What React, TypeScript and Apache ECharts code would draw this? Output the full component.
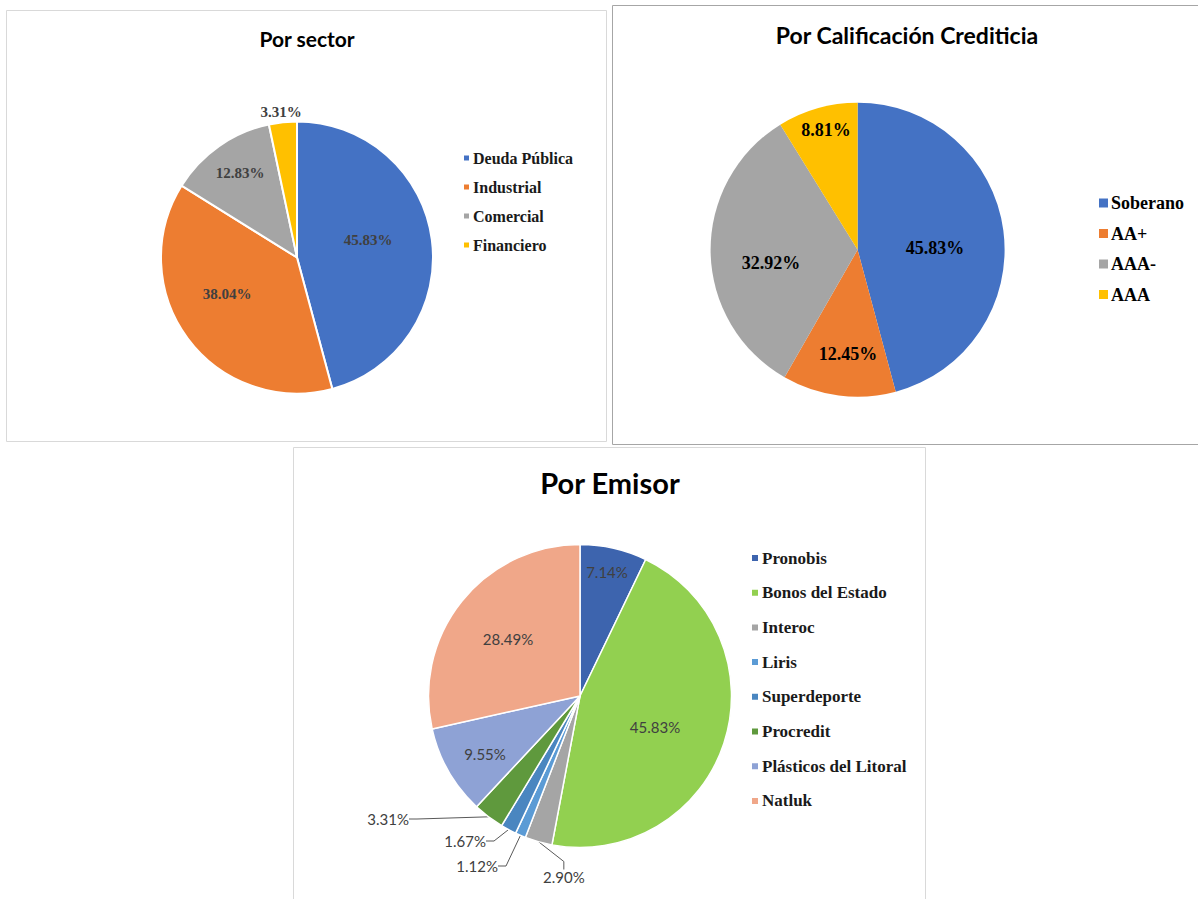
import React, { useEffect, useRef } from "react";
import * as echarts from "echarts";

// ---- Data ----
const sectorTitle = "Por sector";
const sectorNames = ["Deuda Pública", "Industrial", "Comercial", "Financiero"];
const sectorValues = [45.83, 38.04, 12.83, 3.31];
const sectorColors = ["#4472C4", "#ED7D31", "#A5A5A5", "#FFC000"];

const ratingTitle = "Por Calificación Crediticia";
const ratingNames = ["Soberano", "AA+", "AAA-", "AAA"];
const ratingValues = [45.83, 12.45, 32.92, 8.81];
const ratingColors = ["#4472C4", "#ED7D31", "#A5A5A5", "#FFC000"];

const issuerTitle = "Por Emisor";
const issuerNames = [
  "Pronobis",
  "Bonos del Estado",
  "Interoc",
  "Liris",
  "Superdeporte",
  "Procredit",
  "Plásticos del Litoral",
  "Natluk",
];
const issuerValues = [7.14, 45.83, 2.9, 1.12, 1.67, 3.31, 9.55, 28.49];
const issuerColors = ["#3D64AE", "#92D050", "#A5A5A5", "#5B9BD5", "#4A86C0", "#5F993D", "#8EA2D5", "#F0A789"];
const issuerOutside = [false, false, true, true, true, true, false, false];

// ---- Label placement (layout, not data) ----
type LP = { x: number; y: number; align: string };
const sectorLabelPos: LP[] = [
  { x: 368, y: 240, align: "center" },
  { x: 227, y: 294, align: "center" },
  { x: 240, y: 173, align: "center" },
  { x: 281, y: 112, align: "center" },
];
const ratingLabelPos: LP[] = [
  { x: 935, y: 248, align: "center" },
  { x: 848, y: 354, align: "center" },
  { x: 771, y: 263, align: "center" },
  { x: 826, y: 130, align: "center" },
];
const issuerLabelPos: LP[] = [
  { x: 607, y: 572, align: "center" },
  { x: 655, y: 727, align: "center" },
  { x: 543, y: 877, align: "left" },
  { x: 498, y: 866, align: "right" },
  { x: 486, y: 841, align: "right" },
  { x: 409, y: 819, align: "right" },
  { x: 485, y: 754, align: "center" },
  { x: 508, y: 639, align: "center" },
];

const SERIF = "'Liberation Serif', 'Times New Roman', serif";
const SANS = "Lato, 'Open Sans', sans-serif";

const pct = (p: any) => Number(p.value).toFixed(2) + "%";

export default function App() {
  const ref = useRef<HTMLDivElement>(null);

  useEffect(() => {
    document.body.style.margin = "0";
    if (!ref.current) return;
    const chart = echarts.init(ref.current, null, { renderer: "svg" });

    const layoutFrom = (arr: LP[]) => (params: any) => {
      const p = arr[params.dataIndex];
      return { x: p.x, y: p.y, align: p.align, verticalAlign: "middle" };
    };

    const option: any = {
      animation: false,
      backgroundColor: "#ffffff",
      graphic: [
        { type: "rect", shape: { x: 6.5, y: 10.5, width: 600, height: 431 }, style: { fill: "none", stroke: "#d9d9d9", lineWidth: 1 }, z: -1 },
        { type: "rect", shape: { x: 612.5, y: 5.5, width: 600, height: 439 }, style: { fill: "none", stroke: "#a6a6a6", lineWidth: 1 }, z: -1 },
        { type: "rect", shape: { x: 293.5, y: 447.5, width: 632, height: 470 }, style: { fill: "none", stroke: "#d9d9d9", lineWidth: 1 }, z: -1 },
        { type: "text", x: 307, y: 38, style: { text: sectorTitle, font: `bold 21px ${SANS}`, fill: "#000", align: "center", verticalAlign: "middle" } },
        { type: "text", x: 907, y: 35, style: { text: ratingTitle, font: `bold 23px ${SANS}`, fill: "#000", align: "center", verticalAlign: "middle" } },
        { type: "text", x: 610, y: 482, style: { text: issuerTitle, font: `bold 29px ${SANS}`, fill: "#000", align: "center", verticalAlign: "middle" } },
      ],
      legend: [
        {
          data: sectorNames,
          orient: "vertical",
          left: 462,
          top: 148,
          padding: 0,
          icon: "rect",
          itemWidth: 7,
          itemHeight: 7,
          itemGap: 9,
          selectedMode: false,
          textStyle: { fontFamily: SERIF, fontWeight: "bold", fontSize: 16, color: "#1a1a1a", lineHeight: 20, padding: [0, 0, 0, -2] },
        },
        {
          data: ratingNames,
          orient: "vertical",
          left: 1099,
          top: 192,
          padding: 0,
          icon: "rect",
          itemWidth: 9,
          itemHeight: 9,
          itemGap: 8.5,
          selectedMode: false,
          textStyle: { fontFamily: SERIF, fontWeight: "bold", fontSize: 18, color: "#000", lineHeight: 22, padding: [0, 0, 0, -2] },
        },
        {
          data: issuerNames,
          orient: "vertical",
          left: 750,
          top: 547,
          padding: 0,
          icon: "rect",
          itemWidth: 8,
          itemHeight: 8,
          itemGap: 12.7,
          selectedMode: false,
          textStyle: { fontFamily: SERIF, fontWeight: "bold", fontSize: 17, color: "#1a1a1a", lineHeight: 22, padding: [0, 0, 0, -2] },
        },
      ],
      series: [
        {
          type: "pie",
          center: [297, 257.5],
          radius: 136,
          startAngle: 90,
          clockwise: true,
          avoidLabelOverlap: false,
          itemStyle: { borderColor: "#ffffff", borderWidth: 2 },
          label: { show: true, position: "inside", formatter: pct, fontFamily: SERIF, fontWeight: "bold", fontSize: 15, color: "#404040" },
          labelLine: { show: false },
          labelLayout: layoutFrom(sectorLabelPos),
          emphasis: { disabled: true },
          data: sectorNames.map((n, i) => ({ name: n, value: sectorValues[i], itemStyle: { color: sectorColors[i] } })),
        },
        {
          type: "pie",
          center: [857.6, 249.7],
          radius: 147,
          startAngle: 90,
          clockwise: true,
          avoidLabelOverlap: false,
          itemStyle: { borderWidth: 0 },
          label: { show: true, position: "inside", formatter: pct, fontFamily: SERIF, fontWeight: "bold", fontSize: 18, color: "#000" },
          labelLine: { show: false },
          labelLayout: layoutFrom(ratingLabelPos),
          emphasis: { disabled: true },
          data: ratingNames.map((n, i) => ({ name: n, value: ratingValues[i], itemStyle: { color: ratingColors[i] } })),
        },
        {
          type: "pie",
          center: [580, 696],
          radius: 151.5,
          startAngle: 90,
          clockwise: true,
          avoidLabelOverlap: false,
          itemStyle: { borderColor: "#ffffff", borderWidth: 1.5 },
          label: { show: true, position: "inside", formatter: pct, fontFamily: SANS, fontSize: 15, color: "#404040" },
          labelLine: { show: false },
          labelLayout: layoutFrom(issuerLabelPos),
          emphasis: { disabled: true },
          data: issuerNames.map((n, i) => ({
            name: n,
            value: issuerValues[i],
            itemStyle: { color: issuerColors[i] },
            label: issuerOutside[i] ? { position: "outside" } : undefined,
            labelLine: issuerOutside[i]
              ? { show: true, length: 8, length2: 8, lineStyle: { color: "#595959", width: 1 } }
              : undefined,
          })),
        },
      ],
    };

    chart.setOption(option);
    return () => chart.dispose();
  }, []);

  return <div ref={ref} style={{ width: 1198, height: 899 }} />;
}
